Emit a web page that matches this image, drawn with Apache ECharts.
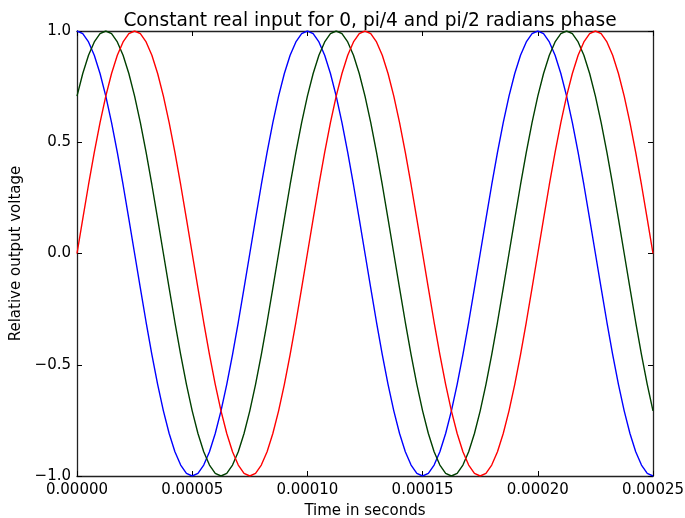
<!DOCTYPE html>
<html>
<head>
<meta charset="utf-8">
<script src="https://cdn.jsdelivr.net/npm/echarts@6/dist/echarts.min.js"></script>
<style>html,body{margin:0;padding:0;background:#fff}#c{width:685px;height:518px}</style>
</head>
<body>
<div id="c"></div>
<script>
// sample times in microseconds
var timesUs = [0,2.5,5,7.5,10,12.5,15,17.5,20,22.5,25,27.5,30,32.5,35,37.5,40,42.5,45,47.5,
50,52.5,55,57.5,60,62.5,65,67.5,70,72.5,75,77.5,80,82.5,85,87.5,90,92.5,95,97.5,
100,102.5,105,107.5,110,112.5,115,117.5,120,122.5,125,127.5,130,132.5,135,137.5,140,142.5,145,147.5,
150,152.5,155,157.5,160,162.5,165,167.5,170,172.5,175,177.5,180,182.5,185,187.5,190,192.5,195,197.5,
200,202.5,205,207.5,210,212.5,215,217.5,220,222.5,225,227.5,230,232.5,235,237.5,240,242.5,245,247.5,250];

var phase0 = [1,0.988,0.951,0.891,0.809,0.707,0.588,0.454,0.309,0.156,
0,-0.156,-0.309,-0.454,-0.588,-0.707,-0.809,-0.891,-0.951,-0.988,
-1,-0.988,-0.951,-0.891,-0.809,-0.707,-0.588,-0.454,-0.309,-0.156,
0,0.156,0.309,0.454,0.588,0.707,0.809,0.891,0.951,0.988,
1,0.988,0.951,0.891,0.809,0.707,0.588,0.454,0.309,0.156,
0,-0.156,-0.309,-0.454,-0.588,-0.707,-0.809,-0.891,-0.951,-0.988,
-1,-0.988,-0.951,-0.891,-0.809,-0.707,-0.588,-0.454,-0.309,-0.156,
0,0.156,0.309,0.454,0.588,0.707,0.809,0.891,0.951,0.988,
1,0.988,0.951,0.891,0.809,0.707,0.588,0.454,0.309,0.156,
0,-0.156,-0.309,-0.454,-0.588,-0.707,-0.809,-0.891,-0.951,-0.988,
-1];

var phasePi4 = [0.707,0.809,0.891,0.951,0.988,
1,0.988,0.951,0.891,0.809,0.707,0.588,0.454,0.309,0.156,
0,-0.156,-0.309,-0.454,-0.588,-0.707,-0.809,-0.891,-0.951,-0.988,
-1,-0.988,-0.951,-0.891,-0.809,-0.707,-0.588,-0.454,-0.309,-0.156,
0,0.156,0.309,0.454,0.588,0.707,0.809,0.891,0.951,0.988,
1,0.988,0.951,0.891,0.809,0.707,0.588,0.454,0.309,0.156,
0,-0.156,-0.309,-0.454,-0.588,-0.707,-0.809,-0.891,-0.951,-0.988,
-1,-0.988,-0.951,-0.891,-0.809,-0.707,-0.588,-0.454,-0.309,-0.156,
0,0.156,0.309,0.454,0.588,0.707,0.809,0.891,0.951,0.988,
1,0.988,0.951,0.891,0.809,0.707,0.588,0.454,0.309,0.156,
0,-0.156,-0.309,-0.454,-0.588,-0.707];

var phasePi2 = [0,0.156,0.309,0.454,0.588,0.707,0.809,0.891,0.951,0.988,
1,0.988,0.951,0.891,0.809,0.707,0.588,0.454,0.309,0.156,
0,-0.156,-0.309,-0.454,-0.588,-0.707,-0.809,-0.891,-0.951,-0.988,
-1,-0.988,-0.951,-0.891,-0.809,-0.707,-0.588,-0.454,-0.309,-0.156,
0,0.156,0.309,0.454,0.588,0.707,0.809,0.891,0.951,0.988,
1,0.988,0.951,0.891,0.809,0.707,0.588,0.454,0.309,0.156,
0,-0.156,-0.309,-0.454,-0.588,-0.707,-0.809,-0.891,-0.951,-0.988,
-1,-0.988,-0.951,-0.891,-0.809,-0.707,-0.588,-0.454,-0.309,-0.156,
0,0.156,0.309,0.454,0.588,0.707,0.809,0.891,0.951,0.988,
1,0.988,0.951,0.891,0.809,0.707,0.588,0.454,0.309,0.156,0];

var xTickLabels = ['0.00000','0.00005','0.00010','0.00015','0.00020','0.00025'];
var yTickLabels = ['\u22121.0','\u22120.5','0.0','0.5','1.0'];

function pairs(ys){ return timesUs.map(function(t,i){ return [t, ys[i]]; }); }

var FONT = 'DejaVu Sans';
var chart = echarts.init(document.getElementById('c'), null, {renderer:'canvas'});
var axisLine = {show:true, onZero:false, lineStyle:{color:'#222', width:1.3}};
var tick = {show:true, inside:true, length:5, lineStyle:{color:'#000', width:1}};
chart.setOption({
  animation:false,
  backgroundColor:'#fff',
  title:{text:'Constant real input for 0, pi/4 and pi/2 radians phase', left:365, textAlign:'center', top:7,
    textStyle:{fontFamily:FONT, fontSize:18.6, fontWeight:'normal', color:'#000'}},
  grid:{left:77, top:31, right:32, bottom:42, containLabel:false, outerBoundsMode:'none'},
  xAxis:[{type:'value', min:0, max:250, interval:50, position:'bottom',
    name:'Time in seconds', nameLocation:'middle', nameGap:28,
    nameTextStyle:{fontFamily:FONT, fontSize:15, color:'#000'},
    axisLine:axisLine, axisTick:tick, splitLine:{show:false},
    axisLabel:{fontFamily:FONT, fontSize:15, color:'#000', margin:7,
      formatter:function(v){ return xTickLabels[Math.round(v/50)]; }}},
    {type:'value', min:0, max:250, interval:50, position:'top',
    axisLine:axisLine, axisTick:tick, splitLine:{show:false}, axisLabel:{show:false}}],
  yAxis:[{type:'value', min:-1, max:1, interval:0.5, position:'left',
    name:'Relative output voltage', nameLocation:'middle', nameGap:46,
    nameTextStyle:{fontFamily:FONT, fontSize:15, color:'#000'},
    axisLine:axisLine, axisTick:tick, splitLine:{show:false},
    axisLabel:{fontFamily:FONT, fontSize:15, color:'#000', margin:6,
      formatter:function(v){ return yTickLabels[Math.round((v+1)/0.5)]; }}},
    {type:'value', min:-1, max:1, interval:0.5, position:'right',
    axisLine:axisLine, axisTick:tick, splitLine:{show:false}, axisLabel:{show:false}}],
  series:[
    {type:'line', name:'0', data:pairs(phase0), showSymbol:false, symbol:'none', lineStyle:{color:'#0000ff', width:1.4}, itemStyle:{color:'#0000ff'}},
    {type:'line', name:'pi/4', data:pairs(phasePi4), showSymbol:false, symbol:'none', lineStyle:{color:'#003f00', width:1.4}, itemStyle:{color:'#003f00'}},
    {type:'line', name:'pi/2', data:pairs(phasePi2), showSymbol:false, symbol:'none', lineStyle:{color:'#ff0000', width:1.4}, itemStyle:{color:'#ff0000'}}
  ]
});
</script>
</body>
</html>
